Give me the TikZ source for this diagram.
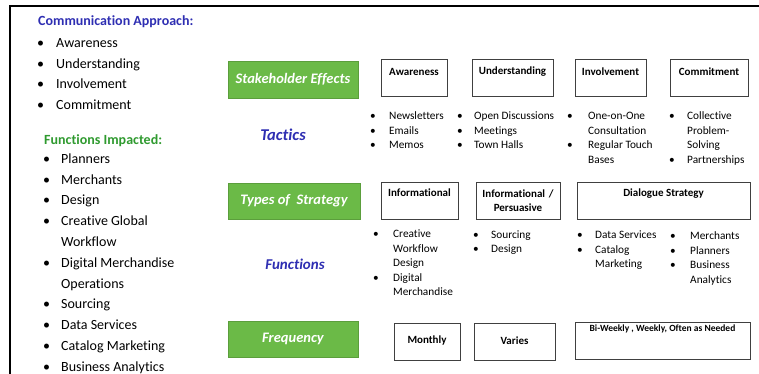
\documentclass[tikz,border=0pt]{standalone}
\usepackage{fontspec}
\setmainfont{Carlito}[Ligatures=NoCommon]
\usetikzlibrary{positioning}
\definecolor{band}{HTML}{6BBA47}
\definecolor{hblue}{HTML}{2E2EB2}
\definecolor{hgreen}{HTML}{2F9A2F}
% bullet list: #1 = width of the bullet column
\newcommand{\blist}[2]{\begin{tabular}{@{}p{#1}@{}l@{}}#2\end{tabular}}
\newcommand{\bu}{\textbullet}

\begin{document}
\begin{tikzpicture}[x=1pt,y=-1pt,
		greenbox/.style={fill=band,draw=band!85!black,minimum width=130,minimum height=37,
			inner sep=0pt,text=white,font=\fontsize{14.5}{16}\selectfont\bfseries\itshape},
		stagebox/.style={draw=black!75,line width=0.9pt,minimum height=37,inner sep=2pt,
			align=center,font=\fontsize{11}{14}\selectfont\bfseries},
		toplbl/.style={anchor=center,font=\fontsize{11}{14}\selectfont\bfseries},
		rowlbl/.style={text=hblue,font=\fontsize{15}{17}\selectfont\bfseries\itshape},
		head/.style={anchor=west,inner sep=0pt,font=\fontsize{14}{17}\selectfont\bfseries},
		leftlist/.style={anchor=north west,inner sep=0pt,font=\fontsize{14}{20.8}\selectfont},
		sublist/.style={anchor=north west,inner sep=0pt,font=\fontsize{11.3}{14.5}\selectfont},
	]
	\useasboundingbox (0,0) rectangle (759,374);
	% frame at top and left
	\draw[line width=2.5pt] (10,374) -- (10,6) -- (759,6);
	
	% left panel
	\node[head,text=hblue] (approach) at (38,21.5) {Communication Approach:};
	\node[leftlist] (approachlist) at (37,32.5) {\blist{19pt}{%
			\bu & Awareness\\ \bu & Understanding\\ \bu & Involvement\\ \bu & Commitment}};
	\node[head,text=hgreen] (impacted) at (44,140.5) {Functions Impacted:};
	\node[leftlist] (impactedlist) at (43,148.6) {\blist{18pt}{%
			\bu & Planners\\ \bu & Merchants\\ \bu & Design\\
			\bu & Creative Global\\ & Workflow\\
			\bu & Digital Merchandise\\ & Operations\\
			\bu & Sourcing\\ \bu & Data Services\\ \bu & Catalog Marketing\\ \bu & Business Analytics}};
	
	% row headings
	\node[greenbox] (stake) at (293,79.5) {Stakeholder Effects};
	\node[rowlbl,font=\fontsize{16.5}{18}\selectfont\bfseries\itshape] (tact) at (283,135) {Tactics};
	\node[greenbox,minimum width=132,minimum height=36] (strat) at (294,201) {Types of~ Strategy};
	\node[rowlbl] (func) at (295,264) {Functions};
	\node[greenbox,minimum height=36] (freq) at (293,339) {Frequency};
	
	% stakeholder effects
	\foreach \n/\x/\w/\t in {aware/414/66/Awareness,underst/512.5/81/Understanding,
		involv/610.5/71/Involvement,commit/709/78/Commitment}
	{\node[stagebox,minimum width=\w,label={[toplbl,yshift=-13pt]north:\t}] (\n) at (\x,77.5) {};}
	
	\node[sublist] (tacA) at (370,109.2) {\blist{19pt}{\bu & Newsletters\\ \bu & Emails\\ \bu & Memos}};
	\node[sublist] (tacB) at (457,109.2) {\blist{17pt}{\bu & Open Discussions\\ \bu & Meetings\\ \bu & Town Halls}};
	\node[sublist] (tacC) at (567,109.2) {\blist{21pt}{\bu & One-on-One\\ & Consultation\\ \bu & Regular Touch\\ & Bases}};
	\node[sublist] (tacD) at (669,109.2) {\blist{18pt}{\bu & Collective\\ & Problem-\\ & Solving\\ \bu & Partnerships}};
	
	% types of strategy
	\node[stagebox,minimum width=77,label={[toplbl,yshift=-11pt]north:Informational}] (info) at (419.5,200.5) {};
	\node[stagebox,minimum width=84,text width=80] (persu) at (518,200.5) {Informational /\\Persuasive};
	\node[stagebox,minimum width=173,label={[toplbl,yshift=-12pt]north:Dialogue Strategy}] (dialog) at (663.5,200.5) {};
	
	\node[sublist] (funA) at (373,227.2) {\blist{20pt}{\bu & Creative\\ & Workflow\\ & Design\\ \bu & Digital\\ & Merchandise}};
	\node[sublist] (funB) at (473,227.8) {\blist{18pt}{\bu & Sourcing\\ \bu & Design}};
	\node[sublist] (funC) at (577,228.2) {\blist{18pt}{\bu & Data Services\\ \bu & Catalog\\ & Marketing}};
	\node[sublist] (funD) at (670,229.2) {\blist{20pt}{\bu & Merchants\\ \bu & Planners\\ \bu & Business\\ & Analytics}};
	
	% frequency
	\node[stagebox,minimum width=66,label={[toplbl,yshift=-18pt]north:Monthly}] (monthly) at (427,341.5) {};
	\node[stagebox,minimum width=81,label={[toplbl,yshift=-18pt]north:Varies}] (varies) at (514.5,341.5) {};
	\node[stagebox,minimum width=175,label={[toplbl,yshift=-7pt,font=\fontsize{9.5}{12}\selectfont\bfseries]north:Bi-Weekly , Weekly, Often as Needed}] (often) at (662.5,340.5) {};
\end{tikzpicture}
\end{document}
